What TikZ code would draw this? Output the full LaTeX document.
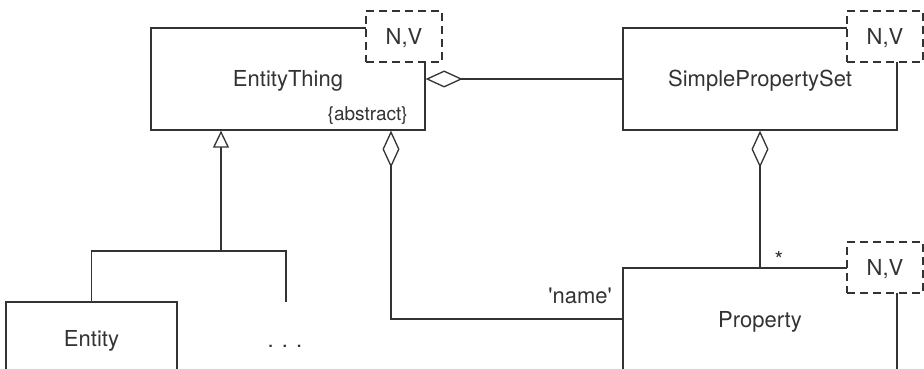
\documentclass[tikz,border=0pt]{standalone}
\usepackage{fontspec}
\setmainfont{TeX Gyre Heros}
\usetikzlibrary{arrows.meta}
\definecolor{ink}{HTML}{333333}
\begin{document}
\begin{tikzpicture}[x=1pt,y=-1pt,
  line/.style={draw=ink, line width=1.3pt},
  box/.style={line, rectangle, fill=white, minimum width=274pt, minimum height=102pt,
    inner sep=0pt, text height=16pt, text depth=0pt, text=ink, font=\fontsize{22}{26}\selectfont},
  nvbox/.style={box, dash pattern=on 8pt off 5pt, minimum width=76pt, minimum height=51pt},
  lbl/.style={inner sep=0pt, text=ink, font=\fontsize{22}{26}\selectfont},
  agg/.style={line, {Diamond[length=37pt, width=17pt, fill=white, line width=1.3pt]}-},
  gen/.style={line, -{Triangle[length=17pt, width=16pt, fill=white, line width=1.3pt]}}
]
\clip (0,0) rectangle (924,369);
\fill[white] (0,0) rectangle (924,369);
% class boxes
\node[box] (ET) at (288,79) {EntityThing};
\node[box] (SPS) at (760,79) {SimplePropertySet};
\node[box] (Prop) at (760,319) {Property};
\node[box, minimum width=171pt, minimum height=72pt] (En) at (91.5,338) {Entity};
\node[lbl, anchor=base] (dots) at (285,347) {. . .};
\node[lbl, anchor=base east, font=\fontsize{19}{22}\selectfont] (abs) at (408,120) {\{abstract\}};
% coordinates
\coordinate (c1) at (391,0);
\coordinate (j) at (221,251);
\coordinate (free) at (286,302);
% connectors
\draw[agg] (ET.east) -- (SPS.west);
\draw[agg] (ET.south -| c1) |- (Prop.west);
\draw[agg] (SPS.south) -- (Prop.north);
\draw[gen] (j) -- (ET.south -| j);
\draw[line] (En.north) |- (j) -| (free);
% labels
\node[lbl, anchor=base east] (nm) at (612,303) {\textquotesingle name\textquotesingle};
\node[lbl, anchor=base] (star) at (779,267) {*};
% N,V boxes
\node[nvbox] (ETnv) at (404,36.5) {N,V};
\node[nvbox] (SPSnv) at (885,36.5) {N,V};
\node[nvbox] (Pnv) at (885,267.5) {N,V};
\end{tikzpicture}
\end{document}
